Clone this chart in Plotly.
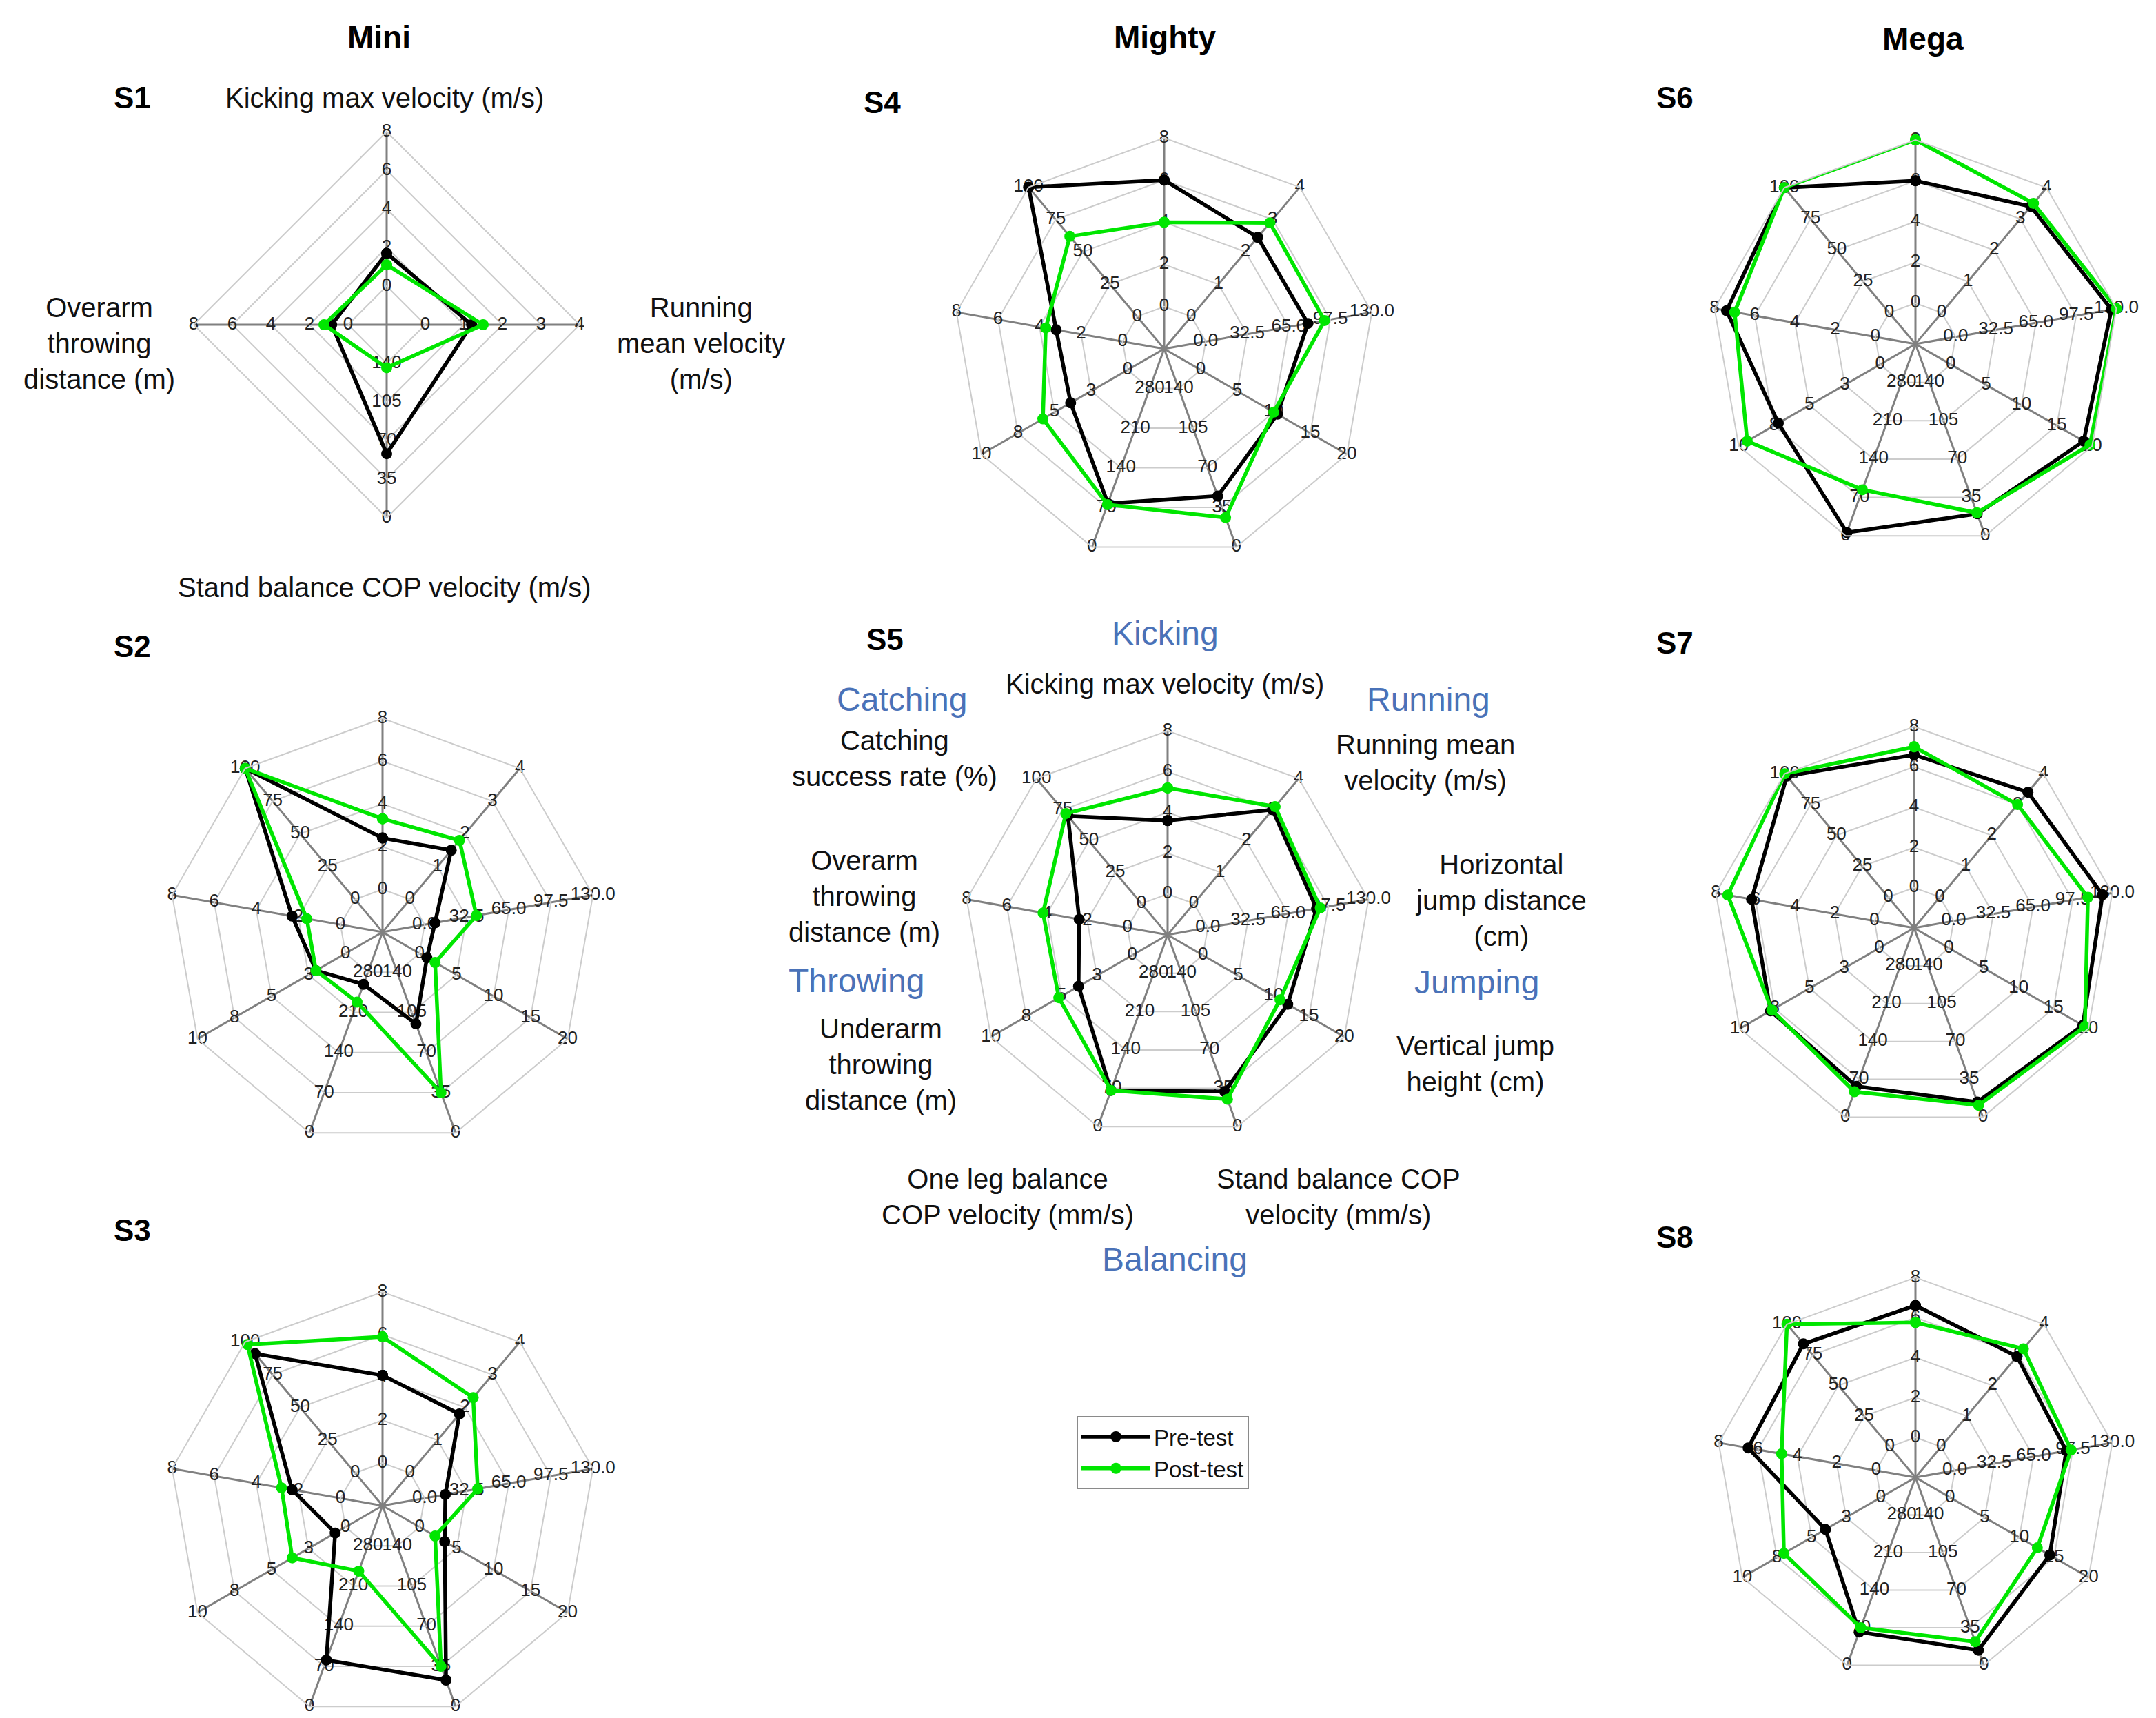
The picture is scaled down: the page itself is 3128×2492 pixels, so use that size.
import plotly.graph_objects as go

W, H = 3128, 2492
FONT = "Liberation Sans, Arial, Helvetica, sans-serif"

# ---------------- data ----------------
AXES9 = ["Kicking", "Running", "Horizontal jump", "Vertical jump", "Stand balance",
         "One leg balance", "Underarm throwing", "Overarm throwing", "Catching"]
AXES4 = ["Kicking", "Running", "Stand balance", "Overarm throwing"]

# value shown at inner ring (r=0.2) and at outer ring (r=1.0)
AXIS_LO = {"Kicking": 0, "Running": 0, "Horizontal jump": 0, "Vertical jump": 0,
           "Stand balance": 140, "One leg balance": 280, "Underarm throwing": 0,
           "Overarm throwing": 0, "Catching": 0}
AXIS_HI = {"Kicking": 8, "Running": 4, "Horizontal jump": 130, "Vertical jump": 20,
           "Stand balance": 0, "One leg balance": 0, "Underarm throwing": 10,
           "Overarm throwing": 8, "Catching": 100}

kick_ticks = ["0", "2", "4", "6", "8"]
run_ticks = ["0", "1", "2", "3", "4"]
hjump_ticks = ["0.0", "32.5", "65.0", "97.5", "130.0"]
vjump_ticks = ["0", "5", "10", "15", "20"]
stand_ticks = ["140", "105", "70", "35", "0"]
oneleg_ticks = ["280", "210", "140", "70", "0"]
under_ticks = ["0", "3", "5", "8", "10"]
over_ticks = ["0", "2", "4", "6", "8"]
catch_ticks = ["0", "25", "50", "75", "100"]
TICKS = {"Kicking": kick_ticks, "Running": run_ticks, "Horizontal jump": hjump_ticks,
         "Vertical jump": vjump_ticks, "Stand balance": stand_ticks,
         "One leg balance": oneleg_ticks, "Underarm throwing": under_ticks,
         "Overarm throwing": over_ticks, "Catching": catch_ticks}

# S1 order: Kicking, Running, Stand balance, Overarm throwing
S1_pre = [1.7, 1.2, 58, 0.85]
S1_post = [1.1, 1.5, 136, 1.25]
# 9-axis order: Kicking, Running, Horizontal jump, Vertical jump, Stand balance,
#               One leg balance, Underarm throwing, Overarm throwing, Catching
S2_pre = [2.4, 1.5, 8, 1.0, 95, 259, 2.0, 2.3, 100]
S2_post = [3.3, 1.8, 40, 2.1, 35, 228, 2.0, 1.6, 100]
S3_pre = [4.1, 1.8, 16, 3.4, 23, 81, 0.7, 2.3, 91]
S3_post = [5.9, 2.3, 41, 2.1, 35, 236, 3.6, 2.8, 98]
S4_pre = [6.0, 2.45, 80, 10.5, 45, 77, 3.9, 3.2, 100]
S4_post = [4.0, 2.9, 93, 10.0, 26, 75, 5.8, 3.7, 62]
S5_pre = [3.6, 3.0, 88, 12.0, 32, 66, 3.8, 2.4, 70]
S5_post = [5.2, 3.1, 91, 10.9, 25, 66, 5.2, 4.2, 72]
S6_pre = [6.0, 3.4, 126, 18.8, 20, 6, 7.2, 7.4, 100]
S6_post = [8.0, 3.5, 130, 19.7, 21, 84, 9.4, 7.0, 100]
S7_pre = [6.6, 3.4, 122, 19.2, 14, 57, 7.8, 6.2, 98]
S7_post = [7.0, 3.0, 110, 19.5, 11, 47, 7.7, 7.4, 100]
S8_pre = [6.6, 2.95, 92, 14.4, 14, 62, 4.0, 6.5, 84]
S8_post = [5.75, 3.2, 96, 12.6, 22, 70, 7.0, 4.8, 100]

SUBJECTS = ["S1", "S2", "S3", "S4", "S5", "S6", "S7", "S8"]
PRE = [S1_pre, S2_pre, S3_pre, S4_pre, S5_pre, S6_pre, S7_pre, S8_pre]
POST = [S1_post, S2_post, S3_post, S4_post, S5_post, S6_post, S7_post, S8_post]
SERIES = ["Pre-test", "Post-test"]

# ---------------- layout (pixel centres / radii) ----------------
CENTERS = {"S1": (553, 463, 280), "S2": (547, 1344, 310), "S3": (547, 2176, 310),
           "S4": (1681, 498, 306), "S5": (1686, 1348, 296), "S6": (2771, 491, 296),
           "S7": (2769, 1338, 292), "S8": (2771, 2135, 290)}

PRE_COLOR = "#000000"
POST_COLOR = "#00e600"
RING = "#cccccc"
SPOKE = "#808080"
TICKC = "#222222"
BLUE = "#4a72b8"

RINGS = [0.2, 0.4, 0.6, 0.8, 1.0]


def norm(axis, v):
    lo, hi = AXIS_LO[axis], AXIS_HI[axis]
    return 0.2 + 0.8 * (v - lo) / (hi - lo)


fig = go.Figure()
layout_polars = {}

for i, s in enumerate(SUBJECTS):
    axes = AXES4 if s == "S1" else AXES9
    pid = "polar" if i == 0 else f"polar{i + 1}"
    sub = pid
    cx, cy, R = CENTERS[s]
    layout_polars[pid] = dict(
        domain=dict(x=[(cx - R) / W, (cx + R) / W], y=[1 - (cy + R) / H, 1 - (cy - R) / H]),
        gridshape="linear",
        bgcolor="white",
        radialaxis=dict(range=[0, 1], tickvals=RINGS[:-1], showticklabels=False, ticks="",
                        showline=False, gridcolor=RING, gridwidth=2),
        angularaxis=dict(type="category", categoryarray=axes, direction="clockwise",
                         rotation=90, showticklabels=False, ticks="", showline=True,
                         linecolor=RING, linewidth=2, gridcolor=SPOKE, gridwidth=3),
    )
    # tick labels along each spoke
    tr, tt, tx = [], [], []
    for a in axes:
        for r, lab in zip(RINGS, TICKS[a]):
            tr.append(r)
            tt.append(a)
            tx.append(lab)
    fig.add_trace(go.Scatterpolar(r=tr, theta=tt, text=tx, mode="text", subplot=sub,
                                  textfont=dict(size=26, color=TICKC, family=FONT),
                                  showlegend=False, hoverinfo="skip", cliponaxis=False))
    for vals, name, col in ((PRE[i], SERIES[0], PRE_COLOR), (POST[i], SERIES[1], POST_COLOR)):
        rr = [norm(a, v) for a, v in zip(axes, vals)]
        fig.add_trace(go.Scatterpolar(
            r=rr + rr[:1], theta=axes + axes[:1], mode="lines+markers", subplot=sub,
            name=name, legendgroup=name, showlegend=(i == 0),
            line=dict(color=col, width=5.5), marker=dict(color=col, size=16),
            cliponaxis=False))

ann = []
DX, DY = -10, -10


def add_text(txt, px, py, size, color="#111111", bold=False):
    ann.append(dict(text=txt, x=(px + DX) / W, y=1 - (py + DY) / H, xref="paper", yref="paper",
                    showarrow=False, xanchor="center", yanchor="middle", align="center",
                    font=dict(size=size, color=color, family=FONT,
                              weight="bold" if bold else "normal")))


# column titles
add_text("Mini", 552, 56, 46, "#000000", True)
add_text("Mighty", 1692, 56, 46, "#000000", True)
add_text("Mega", 2792, 58, 46, "#000000", True)

# subject labels
SPOS = {"S1": (194, 144), "S2": (194, 940), "S3": (194, 1786), "S4": (1282, 150),
        "S5": (1286, 930), "S6": (2432, 144), "S7": (2432, 934), "S8": (2432, 1796)}
for s in SUBJECTS:
    add_text(s, SPOS[s][0], SPOS[s][1], 44, "#000000", True)

# S1 axis names
add_text("Kicking max velocity (m/s)", 560, 144, 40)
add_text("Running<br>mean velocity<br>(m/s)", 1020, 500, 40)
add_text("Stand balance COP velocity (m/s)", 560, 854, 40)
add_text("Overarm<br>throwing<br>distance (m)", 146, 500, 40)

# S5 axis names
add_text("Kicking max velocity (m/s)", 1692, 994, 40)
add_text("Running mean<br>velocity (m/s)", 2070, 1108, 40)
add_text("Horizontal<br>jump distance<br>(cm)", 2180, 1308, 40)
add_text("Vertical jump<br>height (cm)", 2142, 1545, 40)
add_text("Stand balance COP<br>velocity (mm/s)", 1944, 1738, 40)
add_text("One leg balance<br>COP velocity (mm/s)", 1464, 1738, 40)
add_text("Underarm<br>throwing<br>distance (m)", 1280, 1546, 40)
add_text("Overarm<br>throwing<br>distance (m)", 1256, 1302, 40)
add_text("Catching<br>success rate (%)", 1300, 1102, 40)

# S5 skill categories
add_text("Kicking", 1692, 920, 48, BLUE)
add_text("Running", 2074, 1016, 48, BLUE)
add_text("Jumping", 2144, 1426, 48, BLUE)
add_text("Balancing", 1706, 1828, 48, BLUE)
add_text("Throwing", 1244, 1424, 48, BLUE)
add_text("Catching", 1310, 1016, 48, BLUE)

fig.update_layout(
    width=W, height=H, margin=dict(l=0, r=0, t=0, b=0),
    paper_bgcolor="white", plot_bgcolor="white",
    font=dict(family=FONT),
    annotations=ann,
    legend=dict(x=1554 / W, y=1 - 2046 / H, xanchor="left", yanchor="top",
                bgcolor="white", bordercolor="#8a8a8a", borderwidth=2,
                font=dict(size=33, color="#111111", family=FONT), itemwidth=100,
                tracegroupgap=0),
    **layout_polars,
)

fig.write_html("out.html")
